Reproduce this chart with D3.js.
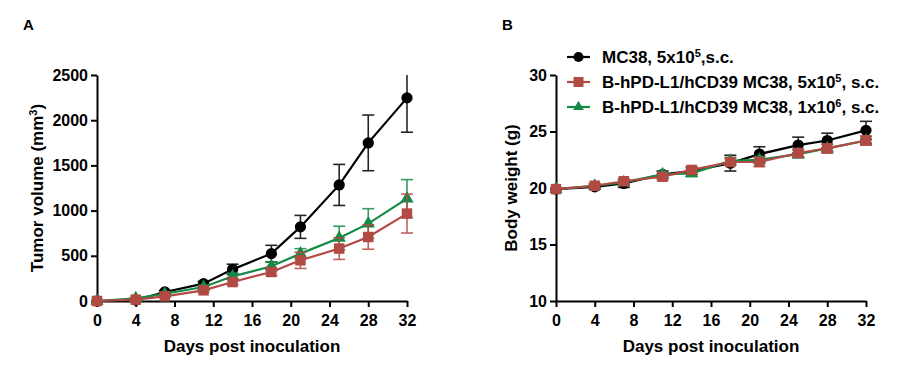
<!DOCTYPE html>
<html>
<head>
<meta charset="utf-8">
<script src="https://cdn.jsdelivr.net/npm/d3@7"></script>
<style>
  body { margin: 0; background: #fff; }
  svg { font-family: "Liberation Sans", Arial, sans-serif; font-weight: bold; }
</style>
</head>
<body>
<div id="chart"></div>
<script>
const days=[0, 4, 7, 11, 14, 18, 21, 25, 28, 32];
const dayTicks=[0, 4, 8, 12, 16, 20, 24, 28, 32];

// tumor volume (mm3)
const tumorMC38=[0, 10, 100, 192, 350, 524, 820, 1284, 1749, 2247];
const tumorMC38Err=[0, 5, 15, 25, 57, 92, 127, 227, 308, 380];
const tumorLow=[0, 15, 52, 118, 210, 321, 450, 580, 708, 967];
const tumorLowErr=[0, 5, 10, 20, 30, 40, 90, 120, 135, 215];
const tumorHigh=[0, 30, 80, 155, 273, 384, 524, 697, 856, 1133];
const tumorHighErr=[0, 8, 12, 20, 35, 50, 55, 130, 165, 210];
const tumorTicks=[0, 500, 1000, 1500, 2000, 2500];

// body weight (g)
const weightMC38=[19.9, 20.1, 20.4, 21.2, 21.5, 22.2, 23.0, 23.8, 24.2, 25.1];
const weightMC38Err=[0.1, 0.2, 0.35, 0.3, 0.3, 0.7, 0.65, 0.7, 0.65, 0.8];
const weightLow=[19.9, 20.2, 20.6, 21.0, 21.6, 22.3, 22.3, 23.1, 23.5, 24.2];
const weightLowErr=[0.1, 0.2, 0.2, 0.3, 0.3, 0.3, 0.4, 0.35, 0.4, 0.4];
const weightHigh=[19.9, 20.2, 20.5, 21.2, 21.3, 22.4, 22.5, 23.0, 23.5, 24.2];
const weightHighErr=[0.1, 0.15, 0.2, 0.3, 0.3, 0.3, 0.3, 0.35, 0.35, 0.35];
const weightTicks=[10, 15, 20, 25, 30];

const legendLabels=[
    ["MC38, 5x10", "5", ",s.c."],
    ["B-hPD-L1/hCD39 MC38, 5x10", "5", ", s.c."],
    ["B-hPD-L1/hCD39 MC38, 1x10", "6", ", s.c."]
];

const colors=["#000000", "#b24a44", "#148a47"];
const symbols=[d3.symbolCircle, d3.symbolSquare, d3.symbolTriangle];
const symSizes=[100, 110, 75];
const legendSizes=[80, 100, 50];

const svg=d3.select("#chart").append("svg")
    .attr("width", 898)
    .attr("height", 366);

function drawPanel (xr, yDomain, yTicks, series, yTitle, letter, letterX) {
    const x=d3.scaleLinear().domain([0, 32]).range(xr);
    const y=d3.scaleLinear().domain(yDomain).range([301, 75]);
    const g=svg.append("g");
    const top=yDomain[1];

    g.append("text")
        .attr("x", letterX)
        .attr("y", 30)
        .style("font-size", "15px")
        .text(letter);

    const xAxis=g.append("g")
        .attr("transform", `translate(0,${y(yDomain[0])})`)
        .call(d3.axisBottom(x).tickValues(dayTicks).tickSize(6).tickSizeOuter(0).tickPadding(8));
    const yAxis=g.append("g")
        .attr("transform", `translate(${x(0)},0)`)
        .call(d3.axisLeft(y).tickValues(yTicks).tickFormat(d3.format("d")).tickSize(6).tickSizeOuter(0).tickPadding(3));

    [xAxis, yAxis].forEach(a => {
        a.select(".domain").attr("stroke", "#000").attr("stroke-width", 2);
        a.selectAll(".tick line").attr("stroke", "#000").attr("stroke-width", 2);
        a.selectAll(".tick text")
            .attr("fill", "#000")
            .style("font-size", "16px")
            .style("font-family", "Liberation Sans, Arial, sans-serif")
            .style("font-weight", "bold");
    });

    g.append("text")
        .attr("x", (xr[0]+xr[1])/2)
        .attr("y", 352)
        .attr("text-anchor", "middle")
        .style("font-size", "17px")
        .text("Days post inoculation");

    const yt=g.append("text")
        .attr("transform", `translate(${yTitle.x},${(y.range()[0]+y.range()[1])/2}) rotate(-90)`)
        .attr("text-anchor", "middle")
        .style("font-size", "17px");
    yt.append("tspan").text(yTitle.text);
    if (yTitle.sup) {
        yt.append("tspan").attr("dy", -6).style("font-size", "11px").text(yTitle.sup);
        yt.append("tspan").attr("dy", 6).text(")");
    }

    const line=d3.line().x(d => x(d[0])).y(d => y(d[1]));

    series.forEach(s => {
        const pts=days.map((d, j) => [d, s.values[j], s.err[j]]);
        const sg=g.append("g");

        // error bars, clipped at the top of the axis like the original
        const eb=sg.selectAll(".err").data(pts).enter().append("g")
            .attr("stroke", colors[s.c])
            .attr("stroke-width", 1.6)
            .attr("opacity", 0.85);
        eb.append("line")
            .attr("x1", d => x(d[0])).attr("x2", d => x(d[0]))
            .attr("y1", d => y(d[1]-d[2])).attr("y2", d => y(Math.min(top, d[1]+d[2])));
        eb.filter(d => d[1]+d[2]<top).append("line")
            .attr("x1", d => x(d[0])-6).attr("x2", d => x(d[0])+6)
            .attr("y1", d => y(d[1]+d[2])).attr("y2", d => y(d[1]+d[2]));
        eb.append("line")
            .attr("x1", d => x(d[0])-6).attr("x2", d => x(d[0])+6)
            .attr("y1", d => y(d[1]-d[2])).attr("y2", d => y(d[1]-d[2]));

        sg.append("path")
            .datum(pts)
            .attr("fill", "none")
            .attr("stroke", colors[s.c])
            .attr("stroke-width", 2.2)
            .attr("d", line);

        sg.selectAll(".pt").data(pts).enter().append("path")
            .attr("transform", d => `translate(${x(d[0])},${y(d[1])})`)
            .attr("fill", colors[s.c])
            .attr("d", d3.symbol().type(symbols[s.c]).size(symSizes[s.c]));
    });
}

drawPanel([97, 407], [0, 2500], tumorTicks, [
    {values: tumorMC38, err: tumorMC38Err, c: 0},
    {values: tumorHigh, err: tumorHighErr, c: 2},
    {values: tumorLow, err: tumorLowErr, c: 1}
], {x: 43, text: "Tumor volume (mm", sup: "3"}, "A", 23);

drawPanel([556, 866], [10, 30], weightTicks, [
    {values: weightMC38, err: weightMC38Err, c: 0},
    {values: weightHigh, err: weightHighErr, c: 2},
    {values: weightLow, err: weightLowErr, c: 1}
], {x: 517, text: "Body weight (g)"}, "B", 502);

// legend
const legend=svg.append("g").selectAll("g").data(legendLabels).enter().append("g")
    .attr("transform", (d, i) => `translate(567,${57+i*25})`);
legend.append("line")
    .attr("x1", 0).attr("x2", 23)
    .attr("stroke", (d, i) => colors[i])
    .attr("stroke-width", 2.2);
legend.append("path")
    .attr("transform", "translate(11.5,0)")
    .attr("fill", (d, i) => colors[i])
    .attr("d", (d, i) => d3.symbol().type(symbols[i]).size(legendSizes[i])());
const lt=legend.append("text")
    .attr("x", 35)
    .attr("y", 6)
    .style("font-size", "17px");
lt.append("tspan").text(d => d[0]);
lt.append("tspan").attr("dy", -6).style("font-size", "11px").text(d => d[1]);
lt.append("tspan").attr("dy", 6).text(d => d[2]);
</script>
</body>
</html>
